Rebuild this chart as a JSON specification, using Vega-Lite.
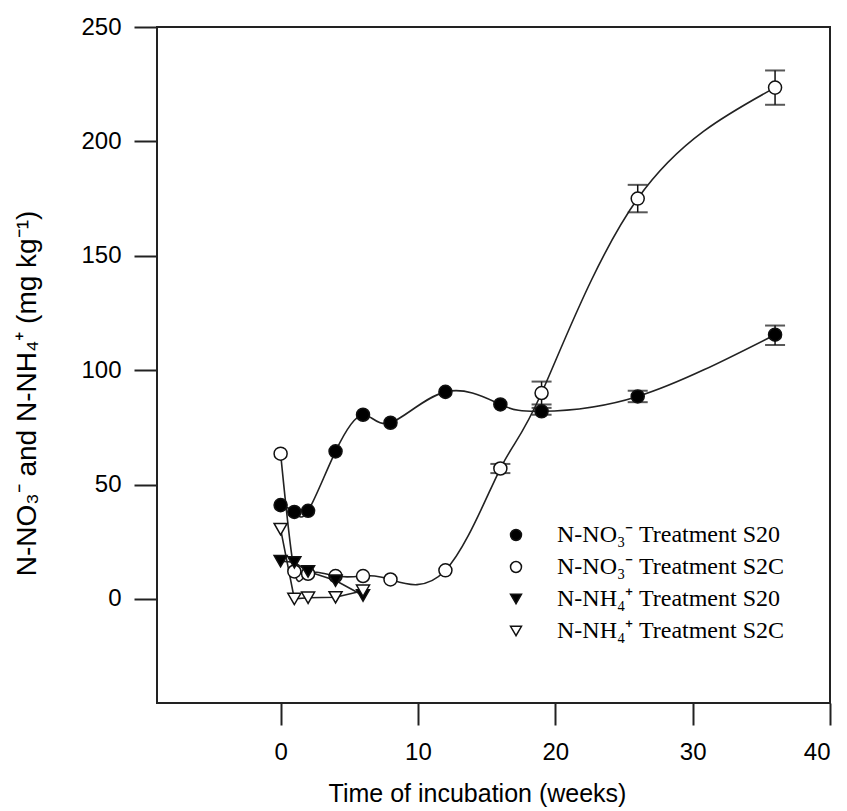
{
  "$schema": "https://vega.github.io/schema/vega-lite/v6.json",
  "width": 673,
  "height": 676,
  "autosize": "none",
  "padding": {"left": 157, "top": 27, "right": 17, "bottom": 109},
  "background": "white",
  "config": {
    "view": {"stroke": "#222", "strokeWidth": 2},
    "font": "Liberation Sans",
    "legend": {
      "orient": "none",
      "legendX": 347,
      "legendY": 496,
      "title": null,
      "padding": 0,
      "labelFont": "Liberation Serif",
      "labelFontSize": 24,
      "labelColor": "black",
      "labelOffset": 29,
      "rowPadding": 8,
      "symbolSize": 120,
      "symbolStrokeWidth": 1.5,
      "labelLimit": 400
    }
  },
  "datasets": {
    "pts": [
      {"series": "N-NO\u2083\u207b Treatment S20", "ion": "NO3", "week": 0, "value": 41},
      {"series": "N-NO\u2083\u207b Treatment S20", "ion": "NO3", "week": 1, "value": 38},
      {"series": "N-NO\u2083\u207b Treatment S20", "ion": "NO3", "week": 2, "value": 38.5},
      {"series": "N-NO\u2083\u207b Treatment S20", "ion": "NO3", "week": 4, "value": 64.5},
      {"series": "N-NO\u2083\u207b Treatment S20", "ion": "NO3", "week": 6, "value": 80.5},
      {"series": "N-NO\u2083\u207b Treatment S20", "ion": "NO3", "week": 8, "value": 77},
      {"series": "N-NO\u2083\u207b Treatment S20", "ion": "NO3", "week": 12, "value": 90.5},
      {"series": "N-NO\u2083\u207b Treatment S20", "ion": "NO3", "week": 16, "value": 85},
      {"series": "N-NO\u2083\u207b Treatment S20", "ion": "NO3", "week": 19, "value": 82},
      {"series": "N-NO\u2083\u207b Treatment S20", "ion": "NO3", "week": 26, "value": 88.5},
      {"series": "N-NO\u2083\u207b Treatment S20", "ion": "NO3", "week": 36, "value": 115.5},
      {"series": "N-NO\u2083\u207b Treatment S2C", "ion": "NO3", "week": 0, "value": 63.5},
      {"series": "N-NO\u2083\u207b Treatment S2C", "ion": "NO3", "week": 1, "value": 12},
      {"series": "N-NO\u2083\u207b Treatment S2C", "ion": "NO3", "week": 2, "value": 11},
      {"series": "N-NO\u2083\u207b Treatment S2C", "ion": "NO3", "week": 4, "value": 10},
      {"series": "N-NO\u2083\u207b Treatment S2C", "ion": "NO3", "week": 6, "value": 10},
      {"series": "N-NO\u2083\u207b Treatment S2C", "ion": "NO3", "week": 8, "value": 8.5},
      {"series": "N-NO\u2083\u207b Treatment S2C", "ion": "NO3", "week": 12, "value": 12.5},
      {"series": "N-NO\u2083\u207b Treatment S2C", "ion": "NO3", "week": 16, "value": 57},
      {"series": "N-NO\u2083\u207b Treatment S2C", "ion": "NO3", "week": 19, "value": 90},
      {"series": "N-NO\u2083\u207b Treatment S2C", "ion": "NO3", "week": 26, "value": 175},
      {"series": "N-NO\u2083\u207b Treatment S2C", "ion": "NO3", "week": 36, "value": 223.5},
      {"series": "N-NH\u2084\u207a Treatment S20", "ion": "NH4", "week": 0, "value": 16.5},
      {"series": "N-NH\u2084\u207a Treatment S20", "ion": "NH4", "week": 1, "value": 16},
      {"series": "N-NH\u2084\u207a Treatment S20", "ion": "NH4", "week": 2, "value": 12},
      {"series": "N-NH\u2084\u207a Treatment S20", "ion": "NH4", "week": 4, "value": 8},
      {"series": "N-NH\u2084\u207a Treatment S20", "ion": "NH4", "week": 6, "value": 1.5},
      {"series": "N-NH\u2084\u207a Treatment S2C", "ion": "NH4", "week": 0, "value": 30.5},
      {"series": "N-NH\u2084\u207a Treatment S2C", "ion": "NH4", "week": 1, "value": 0},
      {"series": "N-NH\u2084\u207a Treatment S2C", "ion": "NH4", "week": 2, "value": 0.5},
      {"series": "N-NH\u2084\u207a Treatment S2C", "ion": "NH4", "week": 4, "value": 0.7},
      {"series": "N-NH\u2084\u207a Treatment S2C", "ion": "NH4", "week": 6, "value": 3.6}
    ],
    "err": [
      {"week": 36, "lo": 111, "hi": 119.5},
      {"week": 26, "lo": 86, "hi": 91},
      {"week": 19, "lo": 80.5, "hi": 83.5},
      {"week": 36, "lo": 216, "hi": 231},
      {"week": 26, "lo": 169, "hi": 181},
      {"week": 19, "lo": 85, "hi": 95},
      {"week": 16, "lo": 55, "hi": 59}
    ]
  },
  "encoding": {
    "x": {
      "field": "week",
      "type": "quantitative",
      "scale": {"domain": [-9, 40], "nice": false, "zero": false},
      "axis": {
        "title": "Time of incubation (weeks)",
        "values": [0, 10, 20, 30, 40],
        "domain": false,
        "grid": false,
        "tickSize": 22,
        "tickWidth": 2,
        "tickColor": "#222",
        "labelFontSize": 24,
        "labelColor": "black",
        "labelPadding": 15,
        "labelFont": "Liberation Sans",
        "titleFont": "Liberation Sans",
        "titleFontSize": 25,
        "titleFontWeight": "normal",
        "titleColor": "black",
        "titlePadding": 17,
        "titleX": 320
      }
    },
    "y": {
      "field": "value",
      "type": "quantitative",
      "scale": {"domain": [-45.5, 250], "nice": false, "zero": false},
      "axis": {
        "title": "N-NO\u2083\u207b and N-NH\u2084\u207a (mg kg\u207b\u00b9)",
        "values": [0, 50, 100, 150, 200, 250],
        "domain": false,
        "grid": false,
        "tickSize": 23,
        "tickWidth": 2,
        "tickColor": "#222",
        "labelFontSize": 24,
        "labelColor": "black",
        "labelPadding": 13,
        "labelFont": "Liberation Sans",
        "titleFont": "Liberation Sans",
        "titleFontSize": 28,
        "titleFontWeight": "normal",
        "titleColor": "black",
        "titleX": -116,
        "titleY": 366
      }
    }
  },
  "layer": [
    {
      "data": {"name": "err"},
      "mark": {"type": "rule", "color": "#111", "strokeWidth": 1.5},
      "encoding": {
        "y": {"field": "lo", "type": "quantitative"},
        "y2": {"field": "hi"}
      }
    },
    {
      "data": {"name": "err"},
      "mark": {"type": "tick", "orient": "horizontal", "color": "#111", "size": 20, "thickness": 2},
      "encoding": {"y": {"field": "lo", "type": "quantitative"}}
    },
    {
      "data": {"name": "err"},
      "mark": {"type": "tick", "orient": "horizontal", "color": "#111", "size": 20, "thickness": 2},
      "encoding": {"y": {"field": "hi", "type": "quantitative"}}
    },
    {
      "data": {"name": "pts"},
      "transform": [{"filter": "datum.ion === 'NO3'"}],
      "mark": {"type": "line", "interpolate": "natural", "color": "#222", "strokeWidth": 1.6},
      "encoding": {"detail": {"field": "series", "type": "nominal"}}
    },
    {
      "data": {"name": "pts"},
      "transform": [{"filter": "datum.ion === 'NH4'"}],
      "mark": {"type": "line", "interpolate": "linear", "color": "#222", "strokeWidth": 1.6},
      "encoding": {"detail": {"field": "series", "type": "nominal"}}
    },
    {
      "data": {"name": "pts"},
      "mark": {"type": "point", "filled": true, "strokeWidth": 1.5, "size": 170, "opacity": 1},
      "encoding": {
        "shape": {
          "field": "series",
          "type": "nominal",
          "scale": {
            "domain": ["N-NO\u2083\u207b Treatment S20", "N-NO\u2083\u207b Treatment S2C", "N-NH\u2084\u207a Treatment S20", "N-NH\u2084\u207a Treatment S2C"],
            "range": ["circle", "circle", "triangle-down", "triangle-down"]
          }
        },
        "fill": {
          "field": "series",
          "type": "nominal",
          "scale": {
            "domain": ["N-NO\u2083\u207b Treatment S20", "N-NO\u2083\u207b Treatment S2C", "N-NH\u2084\u207a Treatment S20", "N-NH\u2084\u207a Treatment S2C"],
            "range": ["black", "white", "black", "white"]
          }
        },
        "stroke": {
          "field": "series",
          "type": "nominal",
          "scale": {
            "domain": ["N-NO\u2083\u207b Treatment S20", "N-NO\u2083\u207b Treatment S2C", "N-NH\u2084\u207a Treatment S20", "N-NH\u2084\u207a Treatment S2C"],
            "range": ["#111", "#111", "#111", "#111"]
          }
        }
      }
    }
  ]
}
